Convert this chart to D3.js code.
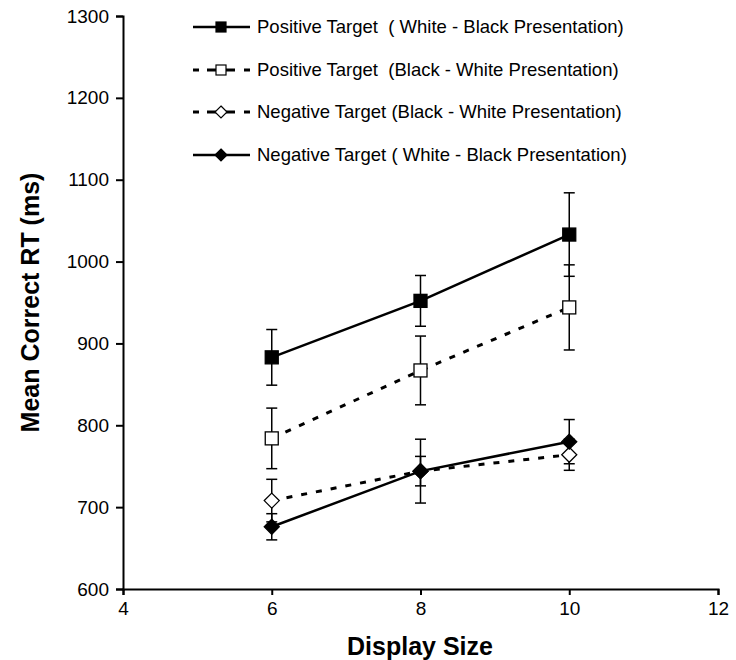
<!DOCTYPE html>
<html>
<head>
<meta charset="utf-8">
<script src="https://cdn.jsdelivr.net/npm/d3@7"></script>
<style>
  html, body { margin: 0; padding: 0; background: #fff; }
  svg { display: block; font-family: "Liberation Sans", Arial, sans-serif; }
</style>
</head>
<body>
<svg id="chart" width="736" height="660"></svg>
<script>
// Display sizes on the x axis
const displaySizes = [6, 8, 10];

// Mean correct RT (ms) and standard errors for each condition
const posWhiteBlack = [883, 952, 1033];
const posWhiteBlackErr = [34, 31, 51];
const posBlackWhite = [784, 867, 944];
const posBlackWhiteErr = [37, 42, 52];
const negBlackWhite = [708, 744, 764];
const negBlackWhiteErr = [26, 18, 19];
const negWhiteBlack = [676, 744, 780];
const negWhiteBlackErr = [16, 39, 27];

const xTicks = [4, 6, 8, 10, 12];
const yTicks = [600, 700, 800, 900, 1000, 1100, 1200, 1300];

const seriesNames = [
  "Positive Target  ( White - Black Presentation)",
  "Positive Target  (Black - White Presentation)",
  "Negative Target (Black - White Presentation)",
  "Negative Target ( White - Black Presentation)"
];

const series = [
  { name: seriesNames[0], values: posWhiteBlack, errs: posWhiteBlackErr, marker: "square", fill: "#000", dashed: false },
  { name: seriesNames[1], values: posBlackWhite, errs: posBlackWhiteErr, marker: "square", fill: "#fff", dashed: true },
  { name: seriesNames[2], values: negBlackWhite, errs: negBlackWhiteErr, marker: "diamond", fill: "#fff", dashed: true },
  { name: seriesNames[3], values: negWhiteBlack, errs: negWhiteBlackErr, marker: "diamond", fill: "#000", dashed: false }
];

const svg = d3.select("#chart");
const x = d3.scaleLinear().domain([4, 12]).range([123, 718]);
const y = d3.scaleLinear().domain([600, 1300]).range([589, 16]);

// Axes
const xAxis = d3.axisBottom(x).tickValues(xTicks).tickSize(6).tickPadding(7).tickFormat(d3.format("d"));
const yAxis = d3.axisLeft(y).tickValues(yTicks).tickSize(7).tickPadding(7).tickFormat(d3.format("d"));

const gx = svg.append("g").attr("transform", `translate(0,${y(600)})`).call(xAxis);
const gy = svg.append("g").attr("transform", `translate(${x(4)},0)`).call(yAxis);
[gx, gy].forEach(g => {
  g.select(".domain").attr("stroke", "#000").attr("stroke-width", 2);
  g.selectAll(".tick line").attr("stroke", "#000").attr("stroke-width", 2);
  g.selectAll(".tick text").attr("fill", "#000").style("font-size", "19px")
    .style("font-family", "'Liberation Sans', Arial, sans-serif");
});

// Axis titles
svg.append("text")
  .attr("x", 420).attr("y", 655)
  .attr("text-anchor", "middle")
  .style("font-size", "25px").style("font-weight", "bold")
  .text("Display Size");
svg.append("text")
  .attr("transform", `translate(39,${y(950)}) rotate(-90)`)
  .attr("text-anchor", "middle")
  .style("font-size", "25px").style("font-weight", "bold")
  .text("Mean Correct RT (ms)");

const line = d3.line().x(d => x(d[0])).y(d => y(d[1]));

function drawMarker(g, type, cx, cy, fill) {
  if (type === "square") {
    g.append("rect")
      .attr("x", cx - 6.5).attr("y", cy - 6.5)
      .attr("width", 13).attr("height", 13)
      .attr("fill", fill).attr("stroke", "#000").attr("stroke-width", 1.3);
  } else {
    const r = 7.5;
    g.append("path")
      .attr("d", `M${cx},${cy - r}L${cx + r},${cy}L${cx},${cy + r}L${cx - r},${cy}Z`)
      .attr("fill", fill).attr("stroke", "#000").attr("stroke-width", 1.3);
  }
}

const plot = svg.append("g");

// Error bars
series.forEach(s => {
  const g = plot.append("g");
  displaySizes.forEach((ds, i) => {
    const v = s.values[i], e = s.errs[i];
    g.append("line")
      .attr("x1", x(ds)).attr("x2", x(ds))
      .attr("y1", y(v + e)).attr("y2", y(v - e))
      .attr("stroke", "#000").attr("stroke-width", 1.5);
    [v + e, v - e].forEach(c => {
      g.append("line")
        .attr("x1", x(ds) - 5.5).attr("x2", x(ds) + 5.5)
        .attr("y1", y(c)).attr("y2", y(c))
        .attr("stroke", "#000").attr("stroke-width", 1.5);
    });
  });
});

// Lines and markers
series.forEach(s => {
  const pts = displaySizes.map((ds, i) => [ds, s.values[i]]);
  plot.append("path")
    .datum(pts)
    .attr("d", line)
    .attr("fill", "none")
    .attr("stroke", "#000")
    .attr("stroke-width", s.dashed ? 3 : 2.5)
    .attr("stroke-dasharray", s.dashed ? "6,9" : null);
  pts.forEach(p => drawMarker(plot, s.marker, x(p[0]), y(p[1]), s.fill));
});

// Legend
const legend = svg.append("g");
const legendRows = [27, 70, 112, 155];
series.forEach((s, i) => {
  const ly = legendRows[i];
  const g = legend.append("g");
  if (s.dashed) {
    [[193, 199], [207, 216], [226, 235], [244, 250]].forEach(seg => {
      g.append("line").attr("x1", seg[0]).attr("x2", seg[1]).attr("y1", ly).attr("y2", ly)
        .attr("stroke", "#000").attr("stroke-width", 3);
    });
  } else {
    g.append("line").attr("x1", 193).attr("x2", 250).attr("y1", ly).attr("y2", ly)
      .attr("stroke", "#000").attr("stroke-width", 2.5);
  }
  if (s.marker === "square") {
    g.append("rect").attr("x", 216).attr("y", ly - 5).attr("width", 10).attr("height", 10)
      .attr("fill", s.fill).attr("stroke", "#000").attr("stroke-width", 1.2);
  } else {
    const r = 6, cx = 221;
    g.append("path").attr("d", `M${cx},${ly - r}L${cx + r},${ly}L${cx},${ly + r}L${cx - r},${ly}Z`)
      .attr("fill", s.fill).attr("stroke", "#000").attr("stroke-width", 1.2);
  }
  g.append("text").attr("x", 257).attr("y", ly).attr("dy", "0.35em")
    .style("font-size", "18.5px").style("white-space", "pre").attr("fill", "#000")
    .text(s.name);
});
</script>
</body>
</html>
